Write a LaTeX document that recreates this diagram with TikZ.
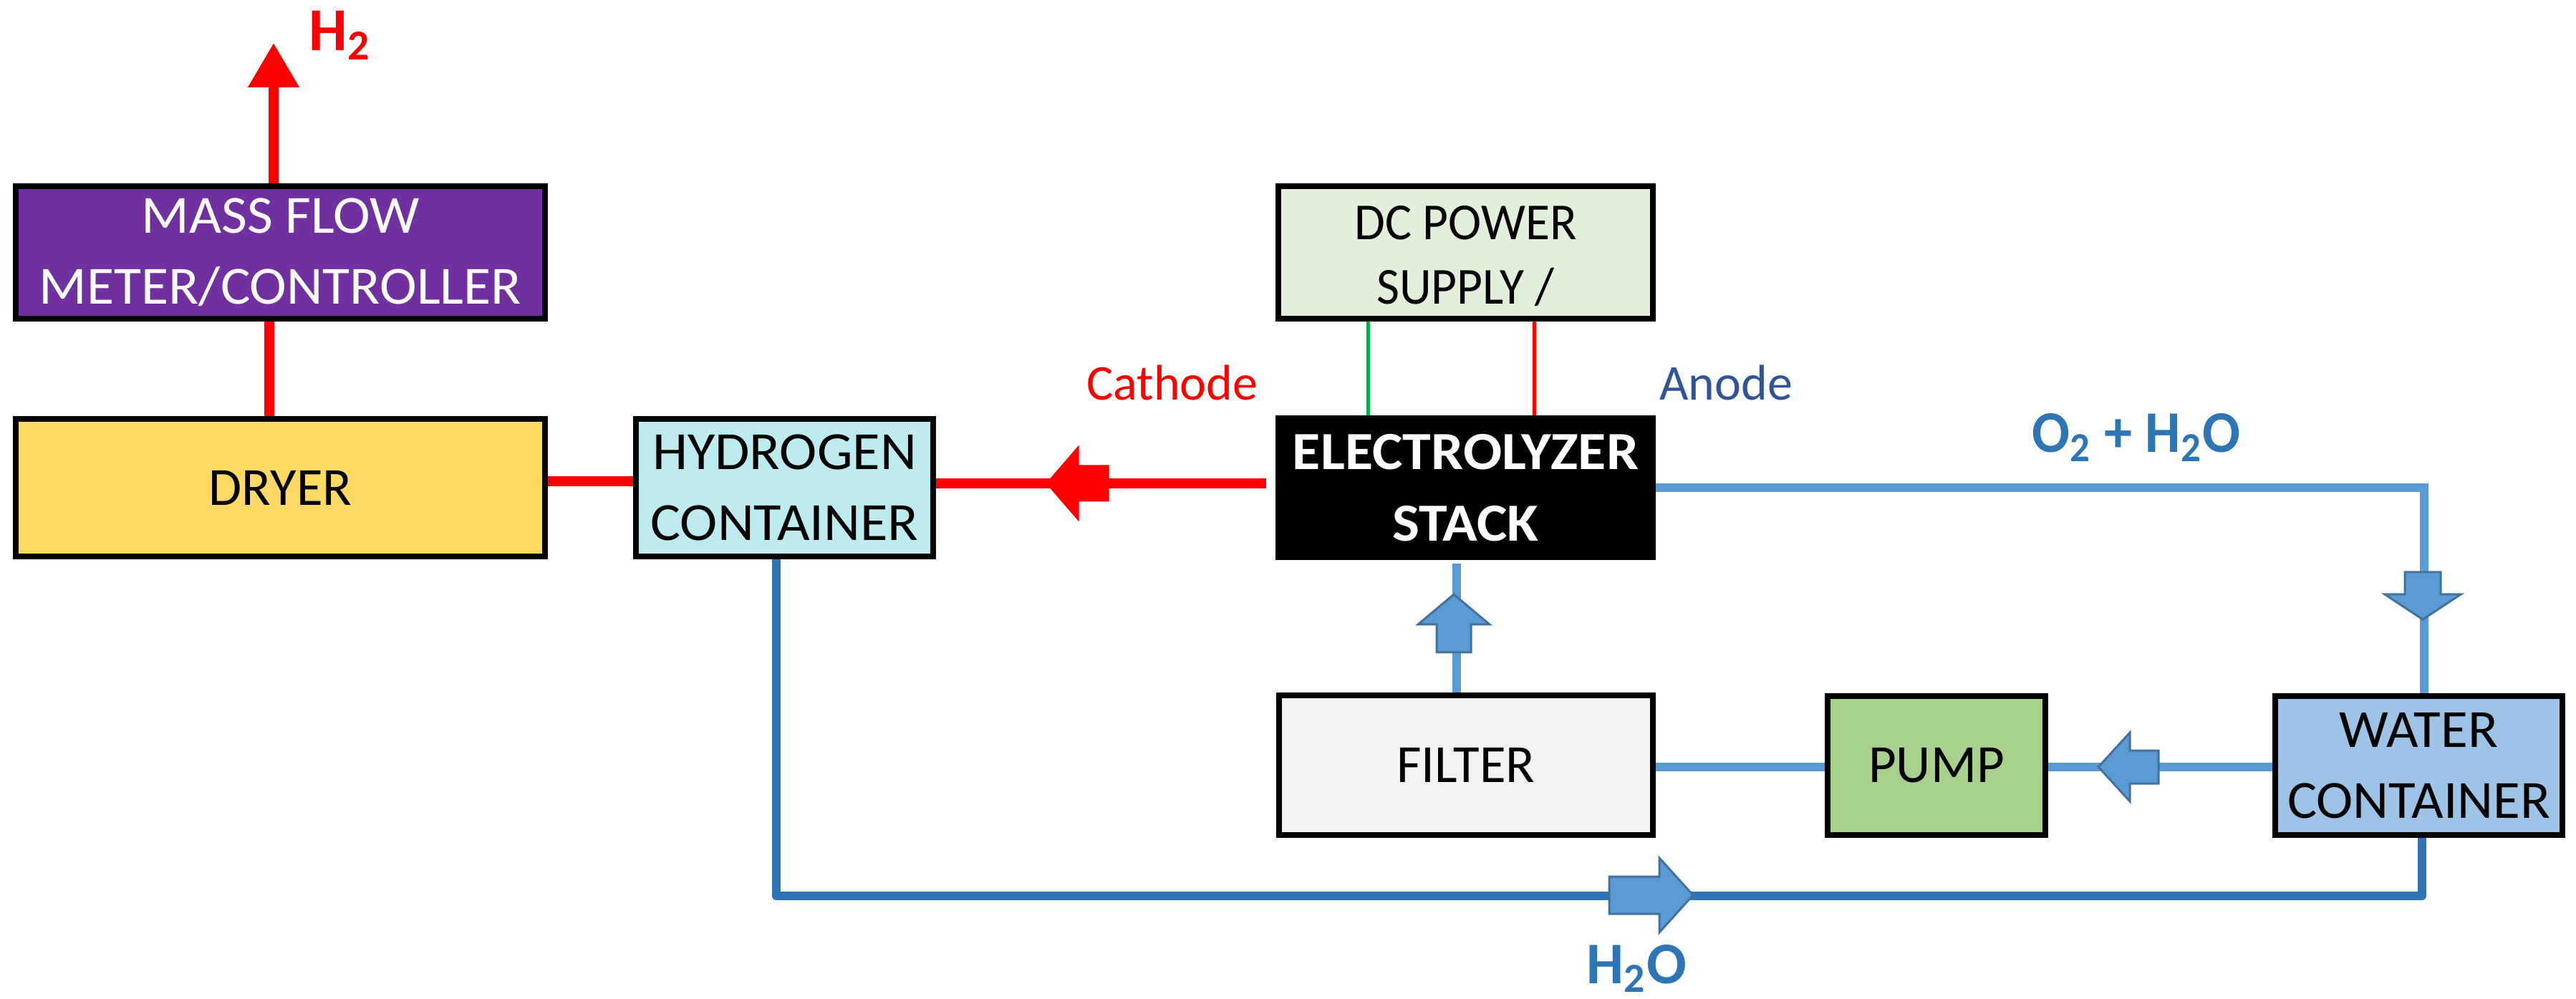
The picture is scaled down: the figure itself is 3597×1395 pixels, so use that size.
\documentclass[tikz,border=0pt]{standalone}
\usepackage{fontspec}
\setmainfont{Carlito}
\usetikzlibrary{arrows.meta}
\definecolor{cPurple}{HTML}{7030A0}
\definecolor{cYellow}{HTML}{FFD966}
\definecolor{cCyan}{HTML}{BDEBF0}
\definecolor{cPale}{HTML}{E2EFDA}
\definecolor{cGrey}{HTML}{F2F2F2}
\definecolor{cGreen}{HTML}{A9D18E}
\definecolor{cWater}{HTML}{9DC3E6}
\definecolor{cBlue}{HTML}{5B9BD5}
\definecolor{cDark}{HTML}{2E75B6}
\definecolor{cEdge}{HTML}{41719C}
\definecolor{cAnode}{HTML}{2F5597}
\newcommand{\boxfont}[3][15]{\fontspec{Carlito}[FakeStretch=#3]\fontsize{#1}{#2}\selectfont}
\newcommand{\flowarrow}[8]{% style, x, y, rotation, tail, base, shaft half, head half
  \draw[#1,shift={(#2,#3)},rotate=#4] (0,0) -- (-#6,#8) -- (-#6,#7) -- (-#5,#7) -- (-#5,-#7) -- (-#6,-#7) -- (-#6,-#8) -- cycle;}
\tikzset{
  box/.style={draw=black,line width=1.6pt,inner sep=0pt,align=center},
  redflow/.style={draw=red,line width=2.8pt},
  blueflow/.style={draw=cBlue,line width=2.5pt},
  darkflow/.style={draw=cDark,line width=2.4pt},
  redmark/.style={fill=red,draw=red,line width=0.2pt},
  bluemark/.style={fill=cBlue,draw=cEdge,line width=0.6pt},
  lbl/.style={inner sep=0pt,anchor=base},
}
\begin{document}
\begin{tikzpicture}[x=0.2pt,y=-0.2pt]
\useasboundingbox (0,0) rectangle (3597,1395);
% boxes
\node[box,fill=cPurple,text=white,minimum width=739*0.2pt,minimum height=185*0.2pt,font={\boxfont{19.8pt}{1.04}}] (mfc) at (391.5,352.5) {MASS FLOW\\METER/CONTROLLER};
\node[box,fill=cYellow,minimum width=739*0.2pt,minimum height=192*0.2pt,font={\boxfont{19.8pt}{1.0}}] (dryer) at (391.5,681) {DRYER};
\node[box,fill=cCyan,minimum width=415*0.2pt,minimum height=192*0.2pt,font={\boxfont{19.8pt}{1.05}}] (hyd) at (1095.5,681) {HYDROGEN\\CONTAINER};
\node[box,fill=cPale,minimum width=523*0.2pt,minimum height=185*0.2pt,font={\boxfont[14.5]{18pt}{0.96}}] (dc) at (2046.5,352.5) {\rule{0pt}{11pt}DC POWER\\SUPPLY \smash{/}};
\node[box,fill=black,text=white,minimum width=523*0.2pt,minimum height=194*0.2pt,font={\boxfont{20pt}{1.07}\bfseries}] (stack) at (2046.5,681) {ELECTROLYZER\\STACK};
\node[box,fill=cGrey,minimum width=522*0.2pt,minimum height=195*0.2pt,font={\boxfont{19.8pt}{1.0}}] (filter) at (2047,1068.5) {FILTER};
\node[box,fill=cGreen,minimum width=304*0.2pt,minimum height=194*0.2pt,font={\boxfont{19.8pt}{1.0}}] (pump) at (2704,1069) {PUMP};
\node[box,fill=cWater,minimum width=401*0.2pt,minimum height=194*0.2pt,font={\boxfont{19.8pt}{1.03}}] (water) at (3377.5,1069) {WATER\\CONTAINER};
% free ends and routing coordinates
\coordinate (h2tip) at (382,60);
\coordinate (xa) at (376,0);
\coordinate (ya) at (0,672);
\coordinate (yb) at (0,675);
\coordinate (xg) at (1910,0);
\coordinate (xr) at (2142,0);
\coordinate (ye) at (0,681);
\coordinate (xc) at (3385,0);
\coordinate (xf) at (2034,0);
\coordinate (yp) at (0,1071);
\coordinate (xh) at (1084,0);
\coordinate (yl) at (0,1251);
\coordinate (xw) at (3382,0);
% connectors
\draw[redflow,-{Triangle[length=12.4pt,width=13.6pt]}] (mfc.north -| h2tip) -- (h2tip);
\draw[redflow] (dryer.north -| xa) -- (mfc.south -| xa);
\draw[redflow] (hyd.west |- ya) -- (dryer.east |- ya);
\draw[redflow,shorten <=13*0.2pt] (stack.west |- yb) -- (hyd.east |- yb);
\draw[draw={rgb,255:red,0;green,176;blue,80},line width=1pt] (dc.south -| xg) -- (stack.north -| xg);
\draw[draw=red,line width=1pt] (dc.south -| xr) -- (stack.north -| xr);
\draw[blueflow,line join=miter] (stack.east |- ye) -- (xc |- ye) -- (water.north -| xc);
\draw[blueflow,shorten <=5*0.2pt] (stack.south -| xf) -- (filter.north -| xf);
\draw[blueflow,line width=2.4pt] (filter.east |- yp) -- (pump.west |- yp);
\draw[blueflow,line width=2.4pt] (water.west |- yp) -- (pump.east |- yp);
\draw[darkflow,line join=round] (hyd.south -| xh) -- (xh |- yl) -- (xw |- yl) -- (water.south -| xw);
% flow marks
\flowarrow{redmark}{1461}{675}{180}{87}{45}{25}{52}
\flowarrow{bluemark}{2030}{830}{90}{81}{42}{24}{50}
\flowarrow{bluemark}{3383}{865}{-90}{66}{35}{25}{53}
\flowarrow{bluemark}{2930}{1071}{180}{84}{44}{23}{48}
\flowarrow{bluemark}{2364}{1250}{0}{117}{47}{26}{52}
% labels
\node[lbl,text=red,font=\fontsize{17}{20}\selectfont\bfseries] (lh2) at (475,71) {H\textsubscript{2}};
\node[lbl,text=red,font=\fontsize{14}{17}\selectfont] (lcat) at (1637,559) {Cathode};
\node[lbl,text=cAnode,font=\fontsize{14}{17}\selectfont] (lan) at (2410,559) {Anode};
\node[lbl,text=cDark,font={\boxfont[16.5]{20pt}{0.95}\bfseries}] (lo2) at (2983,632) {O\textsubscript{2} + H\textsubscript{2}O};
\node[lbl,text=cDark,font=\fontsize{16.5}{20}\selectfont\bfseries] (lw) at (2285,1373) {H\textsubscript{2}O};
\end{tikzpicture}
\end{document}
